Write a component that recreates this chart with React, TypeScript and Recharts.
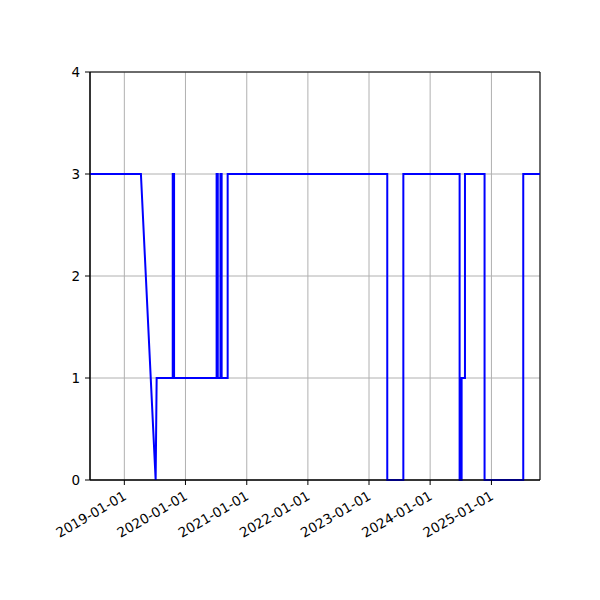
import { CartesianGrid, Line, LineChart, ReferenceArea, XAxis, YAxis } from "recharts";

const dates = [
  "2018-06-10", "2019-04-10", "2019-07-07", "2019-07-13",
  "2019-10-17", "2019-10-17", "2019-10-25", "2019-10-25",
  "2020-07-05", "2020-07-05", "2020-07-12", "2020-07-12",
  "2020-07-28", "2020-07-28", "2020-08-04", "2020-08-04",
  "2020-09-09", "2020-09-09",
  "2023-04-20", "2023-04-20", "2023-07-25", "2023-07-25",
  "2024-06-25", "2024-06-25", "2024-07-07", "2024-07-07",
  "2024-07-27", "2024-07-27", "2024-11-21", "2024-11-21",
  "2025-07-10", "2025-07-10", "2025-10-18",
];
const values = [
  3, 3, 0, 1,
  1, 3, 3, 1,
  1, 3, 3, 1,
  1, 3, 3, 1,
  1, 3,
  3, 0, 0, 3,
  3, 0, 0, 1,
  1, 3, 3, 0,
  0, 3, 3,
];
const xTickLabels = [
  "2019-01-01", "2020-01-01", "2021-01-01", "2022-01-01",
  "2023-01-01", "2024-01-01", "2025-01-01",
];
const yTicks = [0, 1, 2, 3, 4];

const data = dates.map((d, i) => ({ t: Date.parse(d), v: values[i] }));
const xTicks = xTickLabels.map((d) => Date.parse(d));
const xMin = data[0].t;
const xMax = data[data.length - 1].t;

const fmt = (t: number) => new Date(t).toISOString().slice(0, 10);
const font = "DejaVu Sans, sans-serif";

function DateTick({ x, y, payload }: any) {
  return (
    <g transform={`translate(${x - 2},${y})`}>
      <text
        transform="rotate(-30)"
        textAnchor="end"
        dy="0.75em"
        fontSize={13.5}
        fontFamily={font}
        fill="#000"
      >
        {fmt(payload.value)}
      </text>
    </g>
  );
}

export default function App() {
  return (
    <div style={{ position: "absolute", left: 0, top: 0, background: "#fff" }}>
      <LineChart
        width={600}
        height={600}
        data={data}
        margin={{ top: 72, right: 60, bottom: 90, left: 50 }}
      >
        <CartesianGrid stroke="#b0b0b0" strokeWidth={1} />
        <XAxis
          dataKey="t"
          type="number"
          domain={[xMin, xMax]}
          ticks={xTicks}
          interval={0}
          allowDataOverflow
          height={30}
          tickSize={5}
          tickMargin={5}
          stroke="#000"
          tick={<DateTick />}
        />
        <YAxis
          type="number"
          domain={[0, 4]}
          ticks={yTicks}
          interval={0}
          width={40}
          tickSize={5}
          tickMargin={5}
          stroke="#000"
          tick={{ fontSize: 13.5, fontFamily: font, fill: "#000" }}
        />
        <ReferenceArea
          x1={xMin}
          x2={xMax}
          y1={0}
          y2={4}
          fill="none"
          stroke="#000"
          strokeWidth={1}
          fillOpacity={0}
        />
        <Line
          dataKey="v"
          type="linear"
          stroke="#0000ff"
          strokeWidth={2}
          dot={false}
          isAnimationActive={false}
        />
      </LineChart>
    </div>
  );
}
